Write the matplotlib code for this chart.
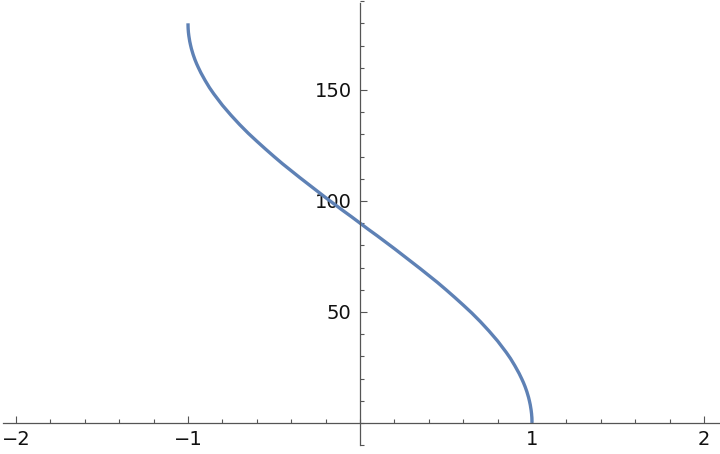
import matplotlib
matplotlib.use("Agg")
import matplotlib.pyplot as plt
from matplotlib.ticker import MultipleLocator, FixedLocator

# values (denser where it bends sharply)
x_vals = [-1.0, -0.9995, -0.999, -0.9975, -0.995, -0.99, -0.985, -0.98, -0.97, -0.96,
          -0.95, -0.94, -0.925, -0.9, -0.875, -0.85, -0.8, -0.75, -0.7, -0.65,
          -0.6, -0.55, -0.5, -0.45, -0.4, -0.35, -0.3, -0.25, -0.2, -0.15,
          -0.1, -0.05, 0.0, 0.05, 0.1, 0.15, 0.2, 0.25, 0.3, 0.35,
          0.4, 0.45, 0.5, 0.55, 0.6, 0.65, 0.7, 0.75, 0.8, 0.85,
          0.875, 0.9, 0.925, 0.94, 0.95, 0.96, 0.97, 0.98, 0.985, 0.99,
          0.995, 0.9975, 0.999, 0.9995, 1.0]
y_vals = [180.0, 178.2, 177.4, 175.9, 174.3, 171.9, 170.1, 168.5, 165.9, 163.7,
          161.8, 160.1, 157.7, 154.2, 151.0, 148.2, 143.1, 138.6, 134.4, 130.5,
          126.9, 123.4, 120.0, 116.7, 113.6, 110.5, 107.5, 104.5, 101.5, 98.6,
          95.7, 92.9, 90.0, 87.1, 84.3, 81.4, 78.5, 75.5, 72.5, 69.5,
          66.4, 63.3, 60.0, 56.6, 53.1, 49.5, 45.6, 41.4, 36.9, 31.8,
          29.0, 25.8, 22.3, 19.9, 18.2, 16.3, 14.1, 11.5, 9.9, 8.1,
          5.7, 4.1, 2.6, 1.8, 0.0]

x_ticks = [-2, -1, 1, 2]
y_ticks = [50, 100, 150]

AXIS_COLOR = "#555555"
LINE_COLOR = "#5E81B5"

fig = plt.figure(figsize=(7.2, 4.54), dpi=100)
ax = fig.add_axes([0, 0, 1, 1])

ax.plot(x_vals, y_vals, color=LINE_COLOR, linewidth=2.4, solid_capstyle="butt")

ax.set_xlim(-2.093, 2.093)
ax.set_ylim(-14.0, 190.5)

for side in ("top", "right"):
    ax.spines[side].set_visible(False)
ax.spines["bottom"].set_position(("data", 0))
ax.spines["left"].set_position(("data", 0))
ax.spines["bottom"].set_bounds(-2.075, 2.085)
ax.spines["left"].set_bounds(-10, 189)
for side in ("bottom", "left"):
    ax.spines[side].set_color(AXIS_COLOR)
    ax.spines[side].set_linewidth(0.9)

ax.xaxis.set_major_locator(FixedLocator(x_ticks))
ax.xaxis.set_minor_locator(MultipleLocator(0.2))
ax.yaxis.set_major_locator(FixedLocator(y_ticks))
ax.yaxis.set_minor_locator(MultipleLocator(10))
ax.set_xticklabels(["\u22122", "\u22121", "1", "2"])

ax.tick_params(which="both", direction="in", color=AXIS_COLOR, width=0.8,
               labelsize=14, labelcolor="#111111")
ax.tick_params(which="major", length=5, pad=5)
ax.tick_params(which="minor", length=3)
ax.tick_params(axis="y", pad=6)

fig.savefig("out.png", dpi=100)
